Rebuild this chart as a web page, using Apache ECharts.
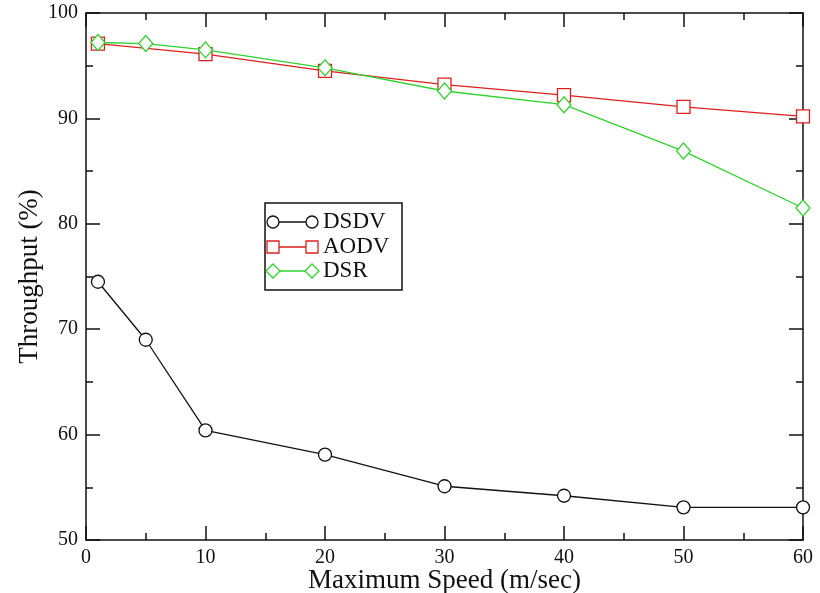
<!DOCTYPE html>
<html><head><meta charset="utf-8">
<script src="https://cdn.jsdelivr.net/npm/echarts@6/dist/echarts.min.js"></script>
<style>html,body{margin:0;padding:0;background:#fff}#c{width:820px;height:593px}</style>
</head><body><div id="c"></div>
<script>
const speeds = [1, 5, 10, 20, 30, 40, 50, 60];
const aodvSpeeds = [1, 10, 20, 30, 40, 50, 60];
const dsdv = [74.5, 69.0, 60.4, 58.1, 55.1, 54.2, 53.1, 53.1];
const aodv = [97.1, 96.1, 94.5, 93.2, 92.2, 91.1, 90.2];
const dsr = [97.2, 97.1, 96.5, 94.8, 92.6, 91.3, 86.9, 81.5];
const seriesNames = ['DSDV', 'AODV', 'DSR'];
const xTitle = 'Maximum Speed (m/sec)';
const yTitle = 'Throughput (%)';

const colors = ['#111111', '#dd1f1f', '#2fd22f'];
const symbols = ['circle', 'rect', 'diamond'];
const symSizes = [13, 13, [14, 16]];
const FONT = 'Liberation Serif';

function pairs(xs, ys) { return xs.map((x, i) => [x, ys[i]]); }
const dataSets = [pairs(speeds, dsdv), pairs(aodvSpeeds, aodv), pairs(speeds, dsr)];

const chart = echarts.init(document.getElementById('c'));

const legendBox = { x: 265, y: 203, w: 137, h: 87 };
const legendRows = [222, 247, 271];
const graphics = [{
  type: 'rect', shape: { x: legendBox.x, y: legendBox.y, width: legendBox.w, height: legendBox.h },
  style: { fill: '#fff', stroke: '#111', lineWidth: 1.5 }, z: 100
}];
seriesNames.forEach((n, i) => {
  const y = legendRows[i];
  graphics.push({ type: 'line', shape: { x1: 273, y1: y, x2: 312, y2: y }, style: { stroke: colors[i], lineWidth: 1.5 }, z: 101 });
  [273, 312].forEach(cx => {
    let el;
    if (i === 0) el = { type: 'circle', shape: { cx: cx, cy: y, r: 6 } };
    else if (i === 1) el = { type: 'rect', shape: { x: cx - 6, y: y - 6, width: 12, height: 12 } };
    else el = { type: 'polygon', shape: { points: [[cx, y - 7], [cx + 7, y], [cx, y + 7], [cx - 7, y]] } };
    el.style = { fill: '#fff', stroke: colors[i], lineWidth: 1.3 };
    el.z = 102;
    graphics.push(el);
  });
  graphics.push({ type: 'text', x: 323, y: y, style: { text: n, font: '23px "' + FONT + '"', fill: '#111', verticalAlign: 'middle' }, z: 102 });
});

const axisLine = { show: true, onZero: false, lineStyle: { color: '#111', width: 1.5 } };
const tick = { show: true, inside: true, length: 14, lineStyle: { color: '#111', width: 1.5 } };
const minor = { show: true, splitNumber: 2, length: 7, lineStyle: { color: '#111', width: 1.5 } };

chart.setOption({
  backgroundColor: '#fff',
  animation: false,
  textStyle: { fontFamily: FONT },
  grid: { left: 86, right: 17, top: 13, bottom: 53, containLabel: false, outerBoundsMode: 'none' },
  xAxis: [{
    type: 'value', min: 0, max: 60, interval: 10, position: 'bottom',
    name: xTitle, nameLocation: 'middle', nameGap: 27, nameMoveOverlap: false,
    nameTextStyle: { fontFamily: FONT, fontSize: 27, color: '#111' },
    axisLine: axisLine, axisTick: tick, minorTick: minor, splitLine: { show: false },
    axisLabel: { fontFamily: FONT, fontSize: 20, color: '#111', margin: 8 }
  }, {
    type: 'value', min: 0, max: 60, interval: 10, position: 'top',
    axisLine: axisLine, axisTick: tick, minorTick: minor, splitLine: { show: false },
    axisLabel: { show: false }
  }],
  yAxis: [{
    type: 'value', min: 50, max: 100, interval: 10, position: 'left',
    name: yTitle, nameLocation: 'middle', nameGap: 43, nameRotate: 90, nameMoveOverlap: false,
    nameTextStyle: { fontFamily: FONT, fontSize: 27, color: '#111' },
    axisLine: axisLine, axisTick: tick, minorTick: minor, splitLine: { show: false },
    axisLabel: { fontFamily: FONT, fontSize: 20, color: '#111', margin: 8 }
  }, {
    type: 'value', min: 50, max: 100, interval: 10, position: 'right',
    axisLine: axisLine, axisTick: tick, minorTick: minor, splitLine: { show: false },
    axisLabel: { show: false }
  }],
  graphic: graphics,
  series: seriesNames.map((n, i) => ({
    name: n, type: 'line', data: dataSets[i],
    symbol: symbols[i], symbolSize: symSizes[i], showAllSymbol: true,
    lineStyle: { color: colors[i], width: 1.3 },
    itemStyle: { color: '#fff', borderColor: colors[i], borderWidth: 1.3 },
    z: 10 + i
  }))
});
</script></body></html>
